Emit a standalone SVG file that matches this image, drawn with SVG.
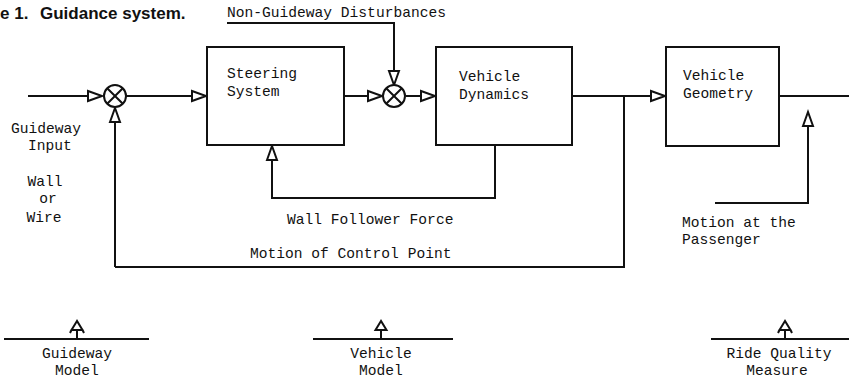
<svg xmlns="http://www.w3.org/2000/svg" width="849" height="385" viewBox="0 0 849 385">
<style>
.m{font-family:"Liberation Mono","DejaVu Sans Mono",monospace;font-size:14.6px;fill:#111}
.c{text-anchor:middle}
.ln{fill:none;stroke:#111;stroke-width:2}
.box{fill:#fff;stroke:#111;stroke-width:2}
.t{font-family:"Liberation Sans",Arial,sans-serif;font-weight:bold;font-size:17px;fill:#111}
</style>
<defs>
<marker id="ah" markerUnits="userSpaceOnUse" markerWidth="18" markerHeight="14" refX="15" refY="6" orient="auto" viewBox="0 0 18 12">
<path d="M1,1 L15,6 L1,11 Z" fill="#fff" stroke="#111" stroke-width="2"/>
</marker>
</defs>
<rect width="849" height="385" fill="#fff"/>
<text class="t" x="0" y="19">e 1.</text>
<text class="t" x="40" y="19">Guidance system.</text>

<g id="connectors">
<path class="ln" d="M28,96 H102" marker-end="url(#ah)"/>
<path class="ln" d="M126,96 H206" marker-end="url(#ah)"/>
<path class="ln" d="M115,267 V108" marker-end="url(#ah)"/>
<path class="ln" d="M115,267 H624 V96"/>
<path class="ln" d="M344,96 H382" marker-end="url(#ah)"/>
<path class="ln" d="M227,23 H394 V85" marker-end="url(#ah)"/>
<path class="ln" d="M406,96 H435" marker-end="url(#ah)"/>
<path class="ln" d="M572,96 H665" marker-end="url(#ah)"/>
<path class="ln" d="M779,96 H849"/>
<path class="ln" d="M495,145 V198 H272 V146" marker-end="url(#ah)"/>
<path class="ln" d="M715,203 H808 V112" marker-end="url(#ah)"/>
<path class="ln" d="M77,339 V322"/>
<path class="ln" d="M381,339 V322"/>
<path class="ln" d="M785,339 V322"/>
</g>

<g id="sum1">
<circle cx="115" cy="96" r="11" fill="#fff" stroke="#111" stroke-width="2"/>
<path class="ln" d="M107.2,88.2 L122.8,103.8 M122.8,88.2 L107.2,103.8"/>
</g>
<g id="sum2">
<circle cx="394" cy="96" r="11" fill="#fff" stroke="#111" stroke-width="2"/>
<path class="ln" d="M386.2,88.2 L401.8,103.8 M401.8,88.2 L386.2,103.8"/>
</g>

<g id="steering">
<rect class="box" x="207" y="47" width="137" height="98"/>
<text class="m" x="227" y="78">Steering</text>
<text class="m" x="227" y="96">System</text>
</g>
<g id="dynamics">
<rect class="box" x="436" y="47" width="136" height="98"/>
<text class="m" x="459" y="81">Vehicle</text>
<text class="m" x="459" y="99">Dynamics</text>
</g>
<g id="geometry">
<rect class="box" x="666" y="47" width="113" height="99"/>
<text class="m" x="683" y="80">Vehicle</text>
<text class="m" x="683" y="98">Geometry</text>
</g>

<g id="disturbance">
<text class="m" x="227" y="17">Non-Guideway Disturbances</text>
</g>
<g id="input">
<text class="m c" x="46" y="133">Guideway</text>
<text class="m c" x="50" y="150">Input</text>
<text class="m c" x="45" y="186">Wall</text>
<text class="m c" x="48" y="203">or</text>
<text class="m c" x="44" y="222">Wire</text>
</g>
<g id="labels">
<text class="m" x="287" y="224">Wall Follower Force</text>
<text class="m" x="250" y="258">Motion of Control Point</text>
<text class="m" x="682" y="227">Motion at the</text>
<text class="m" x="682" y="244">Passenger</text>
</g>

<g id="guideway-model">
<path class="ln" d="M4,339 H149"/>
<path d="M77,321 L71.5,330 H82.5 Z M71.5,330 L70,333 M82.5,330 L84,333" fill="#fff" stroke="#111" stroke-width="2"/>
<text class="m c" x="77" y="358">Guideway</text>
<text class="m c" x="77" y="375">Model</text>
</g>
<g id="vehicle-model">
<path class="ln" d="M313,339 H453"/>
<path d="M381,321 L375.5,330 H386.5 Z" fill="#fff" stroke="#111" stroke-width="2"/>
<text class="m c" x="381" y="358">Vehicle</text>
<text class="m c" x="381" y="375">Model</text>
</g>
<g id="ride-quality">
<path class="ln" d="M711,339 H849"/>
<path d="M785,321 L779.5,330 H790.5 Z M779.5,330 L778,333 M790.5,330 L792,333" fill="#fff" stroke="#111" stroke-width="2"/>
<text class="m c" x="779" y="358">Ride Quality</text>
<text class="m c" x="777" y="375">Measure</text>
</g>
</svg>
